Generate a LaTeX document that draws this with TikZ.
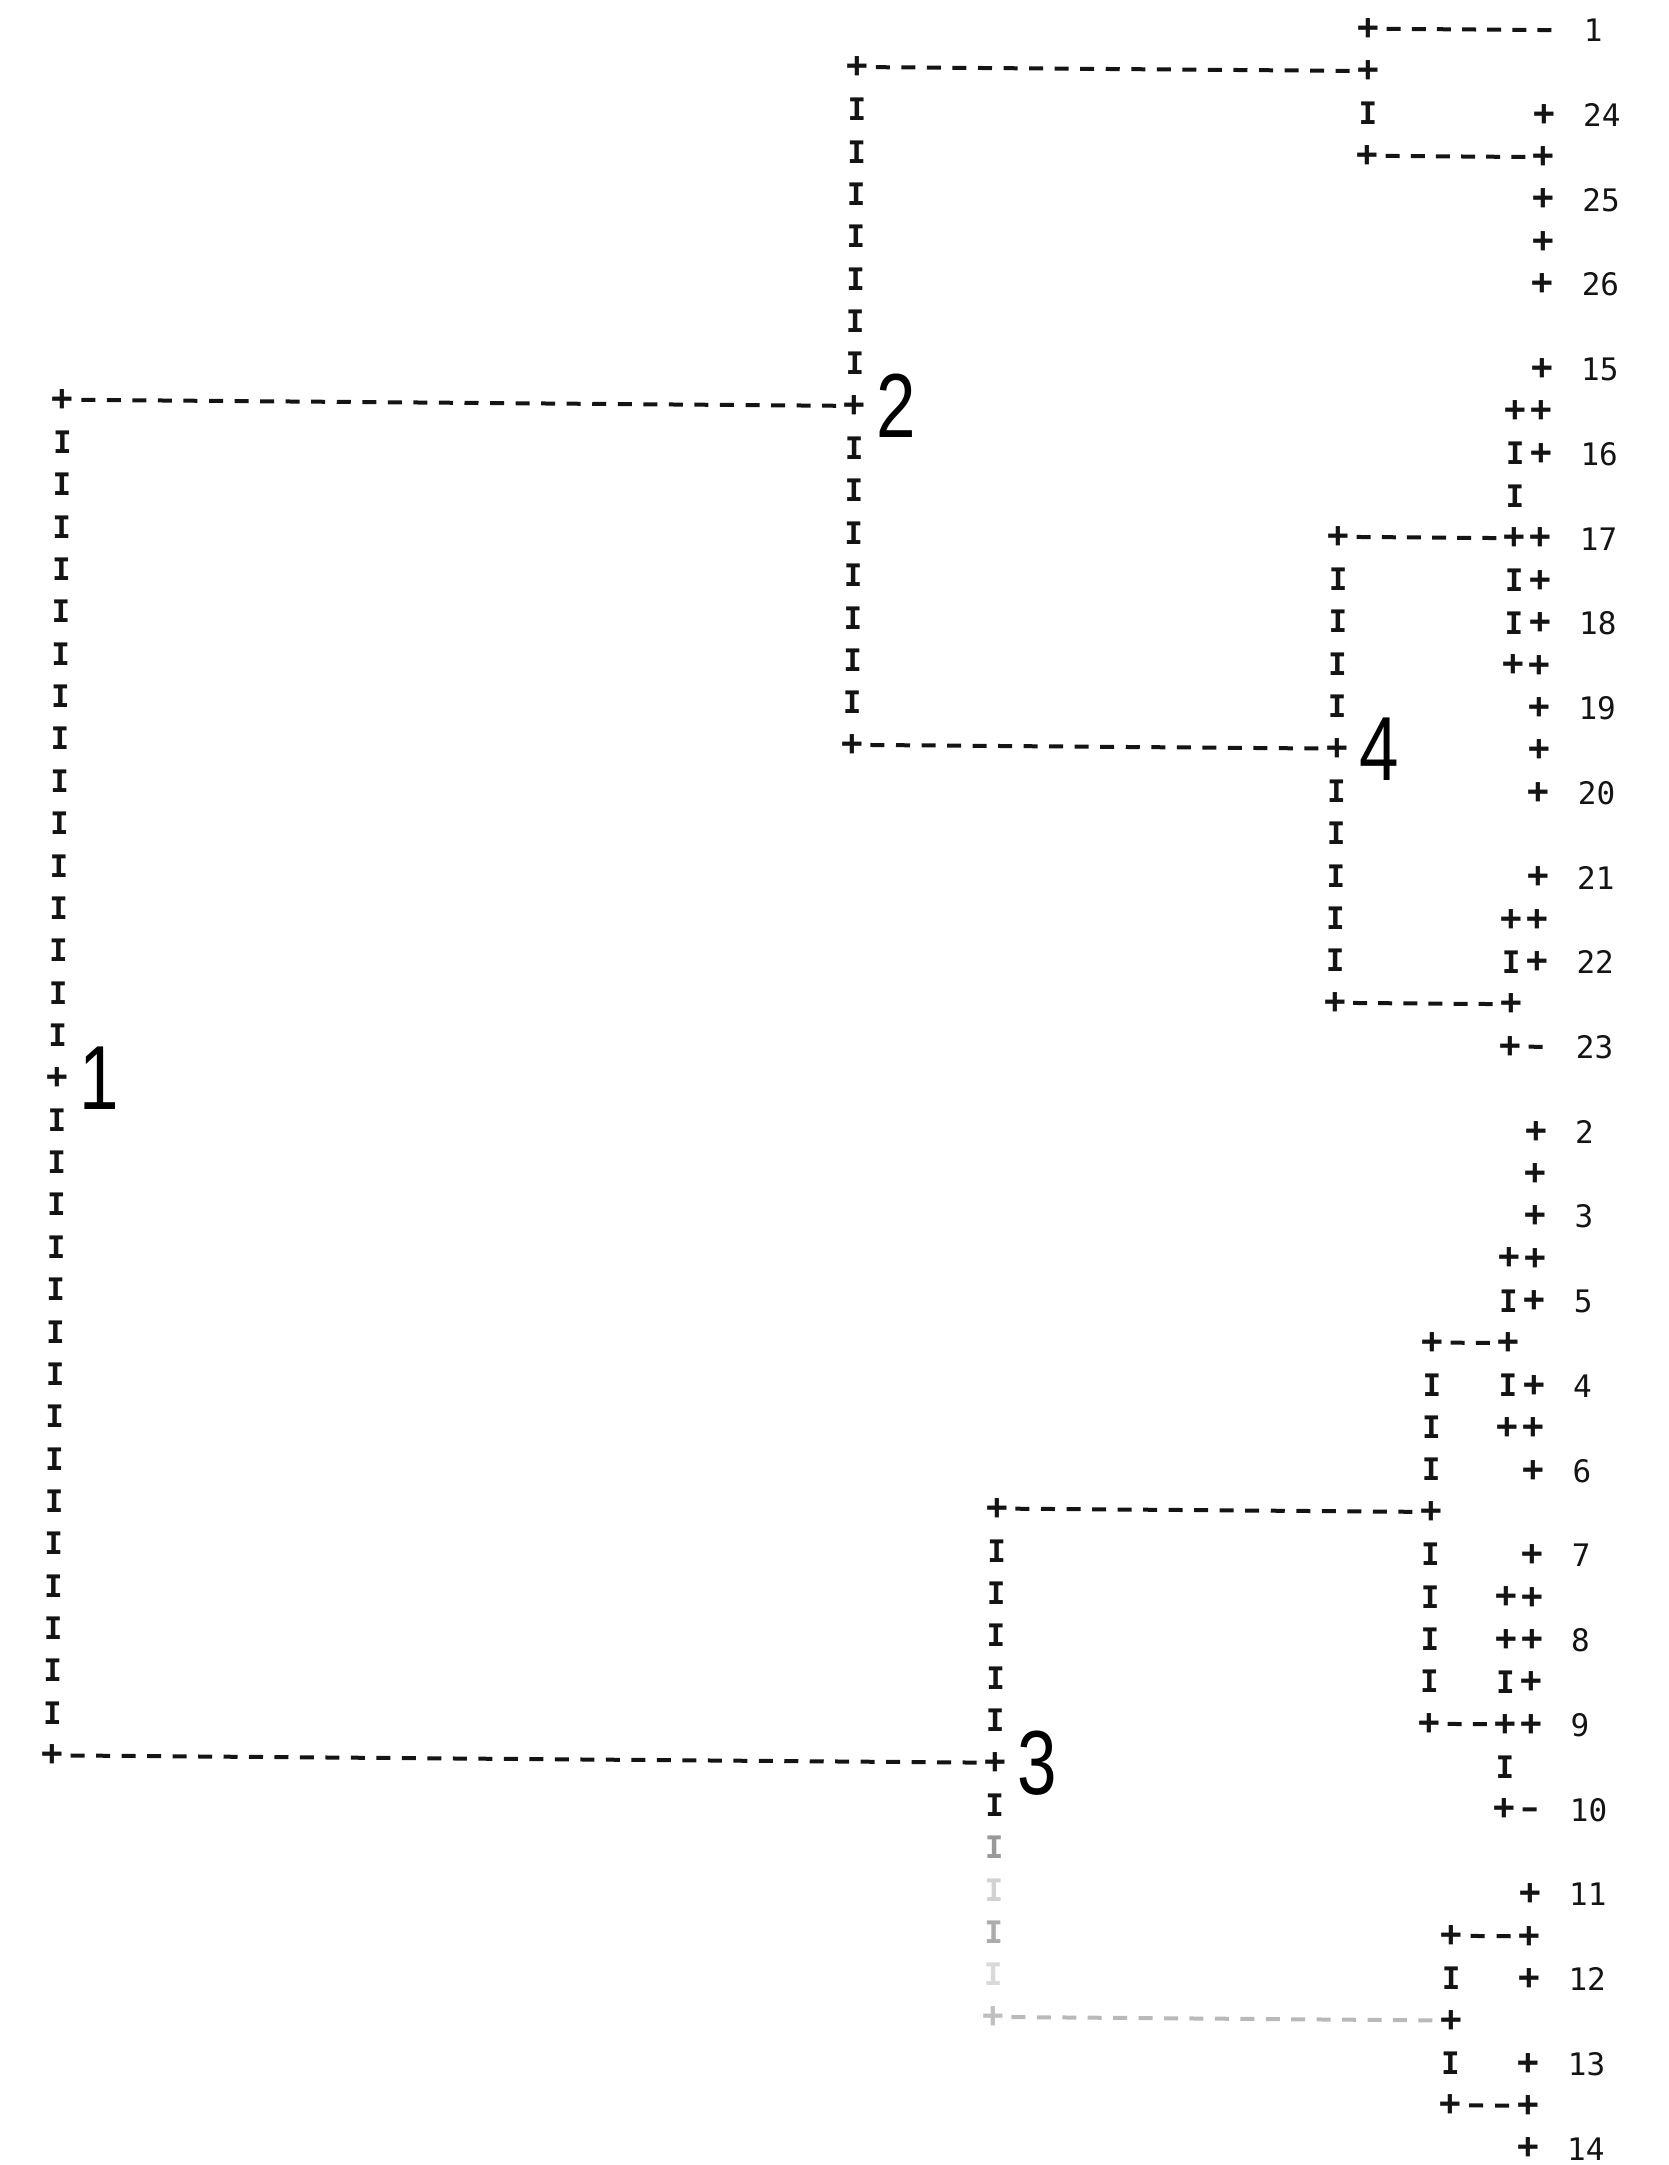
\documentclass[tikz,border=0pt]{standalone}
\usepackage{fontspec}
\newfontfamily\prtfont{DejaVu Sans Mono}
\newfontfamily\bignumfont[FakeStretch=0.78]{Liberation Sans}
\usetikzlibrary{decorations.markings}
\definecolor{ink}{gray}{0.08}
\tikzset{
  pch/.style={font=\prtfont\bfseries\fontsize{36}{36}\selectfont, inner sep=0pt, text=ink},
  ich/.style={font=\prtfont\bfseries\fontsize{31}{31}\selectfont, inner sep=0pt, text=ink},
  lab/.style={font=\prtfont\fontsize{31}{31}\selectfont, inner sep=0pt, anchor=west, text=ink},
  bignum/.style={font=\bignumfont\fontsize{91}{91}\selectfont, inner sep=0pt, anchor=west, text=black},
  dashfill/.style={fill=ink},
  hrun/.style={postaction={decorate, decoration={markings,
      mark=between positions #1pt and -8pt step #1pt with {\fill[dashfill] (-7pt,-2pt) rectangle (7pt,2pt);}}}},
  vrun/.style={postaction={decorate, decoration={markings,
      mark=between positions 42.37pt and -8pt step 42.37pt with {\node[ich]{I};}}}}
}
\begin{document}
\begin{tikzpicture}[x=1pt,y=-1pt]
\path[use as bounding box, fill=white] (0,0) rectangle (1668,2165);
\begin{scope}[rotate around={-0.45:(1540,1000)}]
\begin{scope}[y=-42.37pt, yshift=-30pt]
% ---- junction nodes
\node[pch] (t0) at (1361,0) {+};
\node[pch] (t1) at (1361,1) {+};
\node[pch] (t3) at (1361,3) {+};
\node[pch] (c2a) at (850,1) {+};
\node[pch] (c2b) at (850,9) {+};
\node[pch] (c2c) at (850,17) {+};
\node[pch] (c1a) at (58,9) {+};
\node[pch] (c1b) at (58,25) {+};
\node[pch] (c1c) at (58,41) {+};
\node[pch] (c4a) at (1335,12) {+};
\node[pch] (c4b) at (1335,17) {+};
\node[pch] (c4c) at (1335,23) {+};
\node[pch] (c3a) at (1001,35) {+};
\node[pch] (c3b) at (1001,41) {+};
\node[pch, text=gray!50] (c3c) at (1001,47) {+};
\node[pch] (c5a) at (1435,31) {+};
\node[pch] (c5b) at (1435,35) {+};
\node[pch] (c5c) at (1435,40) {+};
\node[pch] (c6a) at (1459,45) {+};
\node[pch] (c6b) at (1459,47) {+};
\node[pch] (c6c) at (1459,49) {+};
\foreach \r in {9,12,15,21,23,24,29,31,33,37,38,40,42}
  \node[pch] (m\r) at (1511,\r) {+};
\foreach \r in {2,3,4,5,6,8,9,10,12,13,14,15,16,17,18,20,21,22,26,27,28,29,30,32,33,34,36,37,38,39,40,44,45,46,48,49,50}
  \node[pch] (L\r) at (1537,\r) {+};
\coordinate (e0) at (1547,0);
\coordinate (e24) at (1547,24);
\coordinate (e42) at (1547,42);
% ---- leaf labels
\foreach \r/\t in {0/1,2/24,4/25,6/26,8/15,10/16,12/17,14/18,16/19,18/20,20/21,22/22,24/23,26/2,28/3,30/5,32/4,34/6,36/7,38/8,40/9,42/10,44/11,46/12,48/13,50/14}
  \node[lab] (lab\r) at (1576,\r) {\t};
% ---- cluster numbers
\node[bignum] (num1) at (80,25) {1};
\node[bignum] (num2) at (872,9) {2};
\node[bignum] (num3) at (1023,41) {3};
\node[bignum] (num4) at (1357,17) {4};
% ---- horizontal connectors
\path[hrun=25.14] (t0.center) -- (e0);
\path[hrun=25.55] (c2a.center) -- (t1.center);
\path[hrun=25.14] (t3.center) -- (L3.center);
\path[hrun=25.55] (c1a.center) -- (c2b.center);
\path[hrun=25.14] (c4a.center) -- (m12.center);
\path[hrun=25.53] (c2c.center) -- (c4b.center);
\path[hrun=25.14] (c4c.center) -- (m23.center);
\path[hrun=25] (m24.center) -- (e24);
\path[hrun=25.33] (c5a.center) -- (m31.center);
\path[hrun=25.53] (c3a.center) -- (c5b.center);
\path[hrun=25.33] (c5c.center) -- (m40.center);
\path[hrun=25.49] (c1c.center) -- (c3b.center);
\path[hrun=25] (m42.center) -- (e42);
\path[hrun=26] (c6a.center) -- (L45.center);
\path[hrun=25.44, dashfill/.style={fill=gray!55}] (c3c.center) -- (c6b.center);
\path[hrun=26] (c6c.center) -- (L49.center);
% ---- vertical connectors
\path[vrun] (t0.center) -- (t1.center);
\path[vrun] (t1.center) -- (t3.center);
\path[vrun] (c2a.center) -- (c2b.center);
\path[vrun] (c2b.center) -- (c2c.center);
\path[vrun] (c1a.center) -- (c1b.center);
\path[vrun] (c1b.center) -- (c1c.center);
\path[vrun] (c4a.center) -- (c4b.center);
\path[vrun] (c4b.center) -- (c4c.center);
\path[vrun] (c3a.center) -- (c3b.center);
\path[postaction={decorate, decoration={markings,
  mark=at position 42.37pt with {\node[ich]{I};},
  mark=at position 84.74pt with {\node[ich, text=gray!80]{I};},
  mark=at position 127.11pt with {\node[ich, text=gray!35]{I};},
  mark=at position 169.48pt with {\node[ich, text=gray!65]{I};},
  mark=at position 211.85pt with {\node[ich, text=gray!30]{I};}}}]
  (c3b.center) -- (c3c.center);
\path[vrun] (c5a.center) -- (c5b.center);
\path[vrun] (c5b.center) -- (c5c.center);
\path[vrun] (c6a.center) -- (c6b.center);
\path[vrun] (c6b.center) -- (c6c.center);
\path[vrun] (m9.center) -- (m12.center);
\path[vrun] (m12.center) -- (m15.center);
\path[vrun] (m21.center) -- (m23.center);
\path[vrun] (m23.center) -- (m24.center);
\path[vrun] (m29.center) -- (m31.center);
\path[vrun] (m31.center) -- (m33.center);
\path[vrun] (m37.center) -- (m38.center);
\path[vrun] (m38.center) -- (m40.center);
\path[vrun] (m40.center) -- (m42.center);
\end{scope}
\end{scope}
\end{tikzpicture}
\end{document}
